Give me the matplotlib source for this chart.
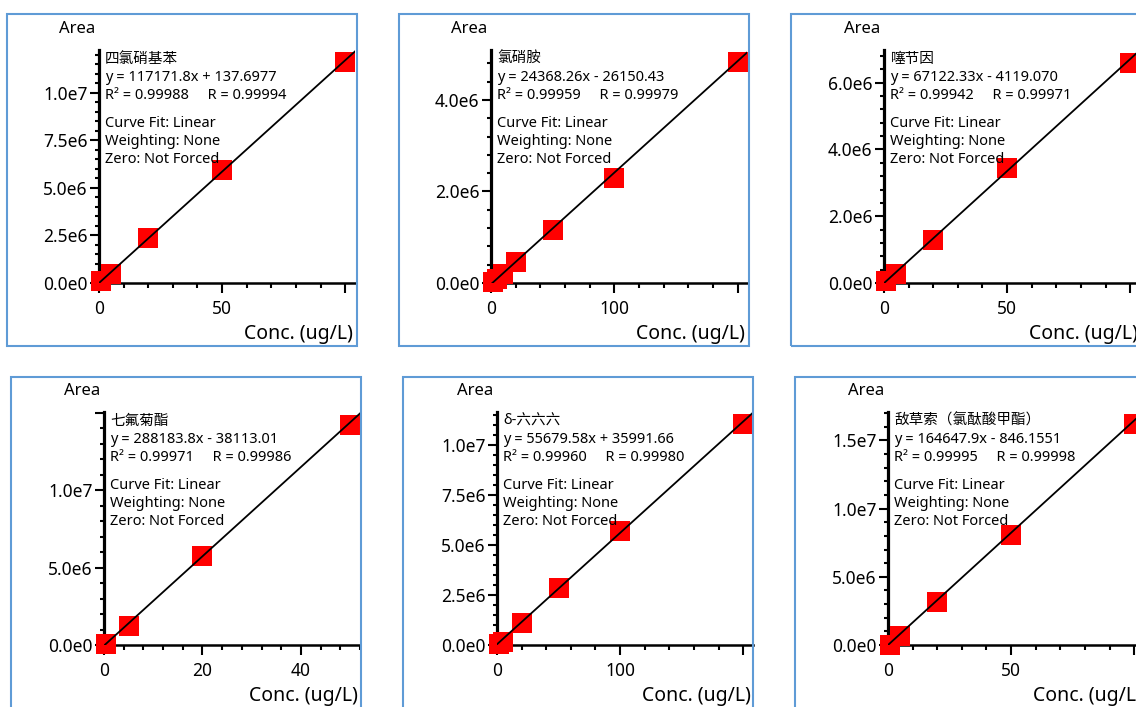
import numpy as np
import matplotlib
matplotlib.use('Agg')
import matplotlib.pyplot as plt
from matplotlib.patches import Rectangle
from matplotlib.ticker import FixedLocator, FixedFormatter, MultipleLocator

plt.rcParams['font.family'] = ['Noto Sans', 'Noto Sans CJK SC', 'DejaVu Sans']

# compound names (one panel each)
names = ['四氯硝基苯', '氯硝胺', '噻节因', '七氟菊酯', 'δ-六六六', '敌草索（氯酞酸甲酯）']

# calibration points: concentration (ug/L) and peak area
conc_1 = [1, 5, 20, 50, 100]
area_1 = [1.1e5, 4.7e5, 2.37e6, 5.95e6, 1.163e7]
conc_2 = [2, 5, 10, 20, 50, 100, 200]
area_2 = [1.5e4, 8.0e4, 2.0e5, 4.6e5, 1.16e6, 2.29e6, 4.83e6]
conc_3 = [1, 5, 20, 50, 100]
area_3 = [5.0e4, 2.7e5, 1.29e6, 3.44e6, 6.59e6]
conc_4 = [0.5, 5, 20, 50]
area_4 = [5.0e4, 1.2e6, 5.72e6, 1.418e7]
conc_5 = [2, 5, 20, 50, 100, 200]
area_5 = [4.0e4, 1.6e5, 1.12e6, 2.83e6, 5.70e6, 1.103e7]
conc_6 = [1, 5, 20, 50, 100]
area_6 = [2.0e4, 6.6e5, 3.16e6, 8.07e6, 1.623e7]
concs = [conc_1, conc_2, conc_3, conc_4, conc_5, conc_6]
areas = [area_1, area_2, area_3, area_4, area_5, area_6]

# fit results as printed on the chart
slopes = [117171.8, 24368.26, 67122.33, 288183.8, 55679.58, 164647.9]
intercepts = [137.6977, -26150.43, -4119.070, -38113.01, 35991.66, -846.1551]
eq_texts = ['y = 117171.8x + 137.6977', 'y = 24368.26x - 26150.43',
            'y = 67122.33x - 4119.070', 'y = 288183.8x - 38113.01',
            'y = 55679.58x + 35991.66', 'y = 164647.9x - 846.1551']
r2_texts = ['0.99988', '0.99959', '0.99942', '0.99971', '0.99960', '0.99995']
r_texts = ['0.99994', '0.99979', '0.99971', '0.99986', '0.99980', '0.99998']

# axis ranges and ticks
x_max = [104, 207.6, 104, 52, 208, 104]
y_max = [1.226e7, 5.09e6, 6.98e6, 1.504e7, 1.165e7, 1.709e7]
x_major = [[0, 50, 100], [0, 100, 200], [0, 50, 100], [0, 20, 40], [0, 100, 200], [0, 50, 100]]
x_labels = [['0', '50', ''], ['0', '100', ''], ['0', '50', ''], ['0', '20', '40'],
            ['0', '100', ''], ['0', '50', '']]
x_minor = [10, 20, 10, 4, 20, 10]
y_major = [[0, 2.5e6, 5e6, 7.5e6, 1e7], [0, 2e6, 4e6], [0, 2e6, 4e6, 6e6],
           [0, 5e6, 1e7, 1.5e7], [0, 2.5e6, 5e6, 7.5e6, 1e7], [0, 5e6, 1e7, 1.5e7]]
y_labels = [['0.0e0', '2.5e6', '5.0e6', '7.5e6', '1.0e7'], ['0.0e0', '2.0e6', '4.0e6'],
            ['0.0e0', '2.0e6', '4.0e6', '6.0e6'], ['0.0e0', '5.0e6', '1.0e7', ''],
            ['0.0e0', '2.5e6', '5.0e6', '7.5e6', '1.0e7'], ['0.0e0', '5.0e6', '1.0e7', '1.5e7']]
y_minor = [5e5, 4e5, 4e5, 1e6, 5e5, 1e6]

W, H = 1136, 707
fig = plt.figure(figsize=(W / 100, H / 100), dpi=100)

# layout in pixels (left, top)
frames_px = [(7, 14), (399, 14), (791, 14), (11, 377), (403, 377), (795, 377)]
axes_px = [(99, 50), (491, 50), (884, 50), (104, 412), (497, 412), (888, 412)]
ax_w, ax_h = 256, 233
PT = 0.72  # points per pixel


def draw_panel(i):
    fx, fy = frames_px[i]
    fig.add_artist(Rectangle((fx / W, 1 - (fy + 332) / H), 350 / W, 332 / H,
                             transform=fig.transFigure, fill=False,
                             edgecolor='#5f9bd6', lw=1.5))
    lx, ty = axes_px[i]
    ax = fig.add_axes([lx / W, 1 - (ty + ax_h) / H, ax_w / W, ax_h / H])
    ax.patch.set_visible(False)
    ax.set_xlim(0, x_max[i])
    ax.set_ylim(0, y_max[i])
    for s in ['top', 'right']:
        ax.spines[s].set_visible(False)
    ax.spines['left'].set_linewidth(2.3)
    ax.spines['bottom'].set_linewidth(1.8)

    ax.xaxis.set_major_locator(FixedLocator(x_major[i]))
    ax.xaxis.set_major_formatter(FixedFormatter(x_labels[i]))
    ax.xaxis.set_minor_locator(MultipleLocator(x_minor[i]))
    ax.yaxis.set_major_locator(FixedLocator(y_major[i]))
    ax.yaxis.set_major_formatter(FixedFormatter(y_labels[i]))
    ax.yaxis.set_minor_locator(MultipleLocator(y_minor[i]))
    ax.tick_params(axis='x', which='major', length=7, width=1.5, labelsize=12.5, pad=5.5)
    ax.tick_params(axis='x', which='minor', length=3.6, width=1.5)
    ax.tick_params(axis='y', which='major', length=6.2, width=1.5, labelsize=12.5, pad=2)
    ax.tick_params(axis='y', which='minor', length=3.0, width=1.5)

    ax.plot(concs[i], areas[i], 's', color='#ff0000', ms=13.7, mew=0,
            clip_on=False, zorder=3)
    xs = np.array([0, x_max[i]])
    ax.plot(xs, slopes[i] * xs + intercepts[i], color='black', lw=1.3, zorder=4)

    ax.annotate('Area', xy=(0, 1), xycoords='axes fraction',
                xytext=(-4 * PT, 21 * PT), textcoords='offset points',
                ha='right', va='center', fontsize=12)
    ax.annotate('Conc. (ug/L)', xy=(1, 0), xycoords='axes fraction',
                xytext=(-2 * PT, -51 * PT), textcoords='offset points',
                ha='right', va='center', fontsize=14)

    lines = [names[i], eq_texts[i], 'R² = %s     R = %s' % (r2_texts[i], r_texts[i]),
             'Curve Fit: Linear', 'Weighting: None', 'Zero: Not Forced']
    baselines = [13, 31, 49, 77, 95, 113]
    for txt, b in zip(lines, baselines):
        ax.annotate(txt, xy=(0, 1), xycoords='axes fraction',
                    xytext=(6 * PT, -b * PT), textcoords='offset points',
                    ha='left', va='baseline', fontsize=10.5, zorder=5)


for k in range(6):
    draw_panel(k)

fig.savefig('out.png', dpi=100)
